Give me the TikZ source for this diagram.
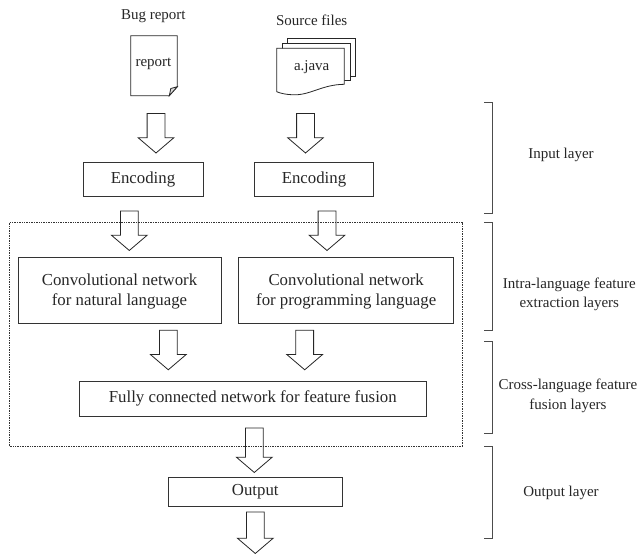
\documentclass[tikz,border=0pt]{standalone}
\usepackage{fontspec}
\setmainfont{Liberation Serif}
\usetikzlibrary{shapes.arrows,calc,positioning}

\tikzset{
  boxnode/.style={draw=black!80,line width=.8pt,inner sep=0pt,align=center,text=black!85},
  labelnode/.style={inner sep=0pt,align=center,text=black!85,font=\fontsize{15}{19.5}\selectfont},
  blockarrow/.style={draw=black!85,line width=.8pt,single arrow,inner sep=8.5pt,shape border rotate=270,
    minimum width=35pt,single arrow head extend=9pt,single arrow tip angle=99,anchor=tip},
  bracketline/.style={draw=black!70,line width=.8pt},
  sheetline/.style={draw=black!85,line width=.8pt,fill=white}
}

\begin{document}
\begin{tikzpicture}[x=1pt,y=-1pt,font=\fontsize{16.8}{20.3}\selectfont]
\useasboundingbox (0,0) rectangle (640,555);

% dotted frame
\draw [black!80,line width=.7pt,densely dotted] (9.3,222.7) rectangle (462.7,446.7);

% boxes
\node [boxnode,minimum width=120pt,minimum height=34pt] (encleft) at (143,179) {Encoding};
\node [boxnode,minimum width=118.5pt,minimum height=34pt] (encright) at (314,179) {Encoding};
\node [boxnode,minimum width=203pt,minimum height=66pt,text depth=2.5pt] (convleft) at (119.5,290.7) {Convolutional network\\for natural language};
\node [boxnode,minimum width=215pt,minimum height=66pt,text depth=2.5pt] (convright) at (346.2,290.7) {Convolutional network\\for programming language};
\node [boxnode,minimum width=347pt,minimum height=34.3pt] (fusion) at (252.8,398.8) {Fully connected network for feature fusion};
\node [boxnode,minimum width=174.7pt,minimum height=28.7pt] (output) at (255.3,491.7) {Output};

% arrows
\node [blockarrow,minimum height=39.5pt] (arrbug) at (156,153.5) {};
\node [blockarrow,minimum height=39.5pt] (arrsrc) at (305.5,153.5) {};
\node [blockarrow,minimum height=39.5pt] (arrencleft) at (129.3,251) {};
\node [blockarrow,minimum height=39.5pt] (arrencright) at (327,251) {};
\node [blockarrow,minimum height=39.5pt] (arrconvleft) at (168.3,370.3) {};
\node [blockarrow,minimum height=39.5pt] (arrconvright) at (304.7,370.3) {};
\node [blockarrow,minimum height=44.5pt] (arrfusion) at (254.3,473) {};
\node [blockarrow,minimum height=41.5pt] (arroutput) at (255.3,554) {};

% bug report sheet
\draw [sheetline] (130.7,35.7) -- (177.3,35.7) -- (177.3,86.7) -- (169.3,95.7) -- (130.7,95.7) -- cycle;
\draw [sheetline,fill=black!15] (177.3,86.7) -- (170.8,88.5) -- (169.3,95.7) -- cycle;
\node [labelnode] (bugtitle) at (153.3,16.5) {Bug report};
\node [labelnode] (bugfile) at (153.5,64) {report};

% source file sheets
\draw [sheetline] (287.3,38.3) -- (355.3,38.3) -- (355.3,76) -- (287.3,76) -- cycle;
\draw [sheetline] (282.3,43.3) -- (350,43.3) -- (350,80) -- (282.3,80) -- cycle;
\draw [sheetline] (276.7,48.3) -- (344.3,48.3) -- (344.3,84.3) .. controls (322,84.5) and (310,95.5) .. (293,94.8) .. controls (286,94.5) and (281,93.5) .. (276.7,91.7) -- cycle;
\node [labelnode] (srctitle) at (311.7,20) {Source files};
\node [labelnode] (srcfile) at (311.7,67) {a.java};

% layer brackets
\draw [bracketline] (484,102.3) -| (492.3,213.7) -- (484,213.7);
\draw [bracketline] (484,222.7) -| (492.3,330.7) -- (484,330.7);
\draw [bracketline] (484,341.7) -| (492.3,433.7) -- (484,433.7);
\draw [bracketline] (484,446.3) -| (492.3,538.3) -- (484,538.3);
\node [labelnode] (inputlayer) at (561,155) {Input layer};
\node [labelnode] (intralayer) at (569.3,294.5) {Intra-language feature\\extraction layers};
\node [labelnode] (crosslayer) at (568,396) {Cross-language feature\\fusion layers};
\node [labelnode] (outputlayer) at (561,493) {Output layer};
\end{tikzpicture}
\end{document}
